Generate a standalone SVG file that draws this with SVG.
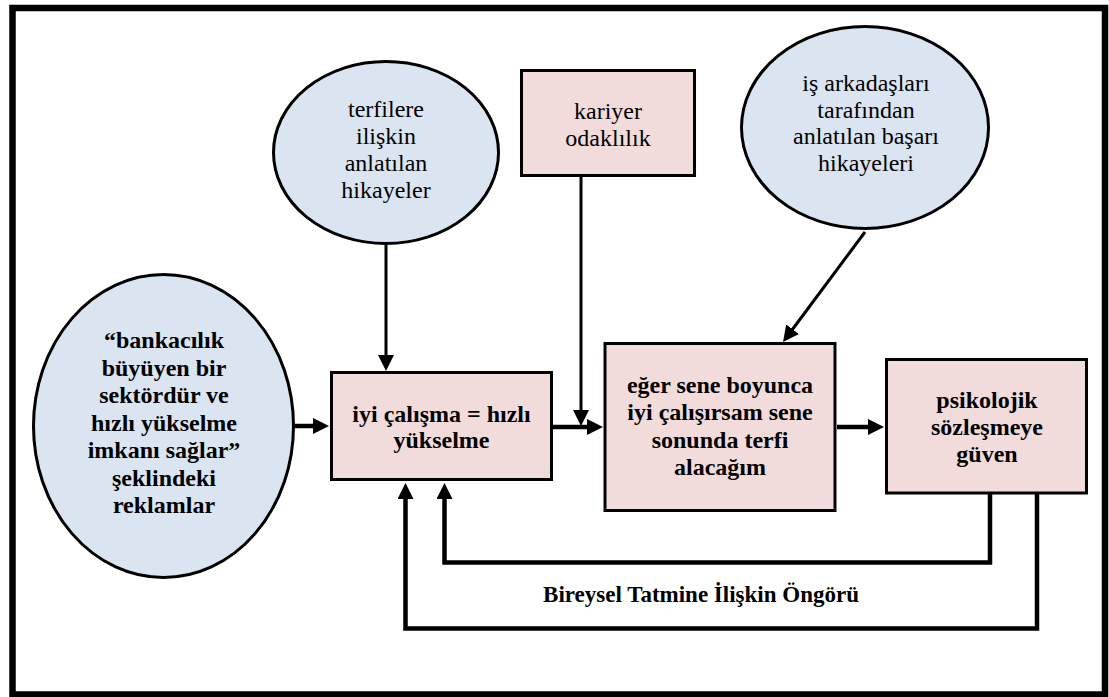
<svg xmlns="http://www.w3.org/2000/svg" width="1109" height="697" viewBox="0 0 1109 697">
  <style>
    .frame { fill: #ffffff; stroke: #000000; stroke-width: 6.5; }
    .oval { fill: #dbe5f1; stroke: #000000; stroke-width: 3; }
    .box { fill: #f2dcdb; stroke: #000000; stroke-width: 3; }
    .thin { fill: none; stroke: #000000; stroke-width: 3; marker-end: url(#arrow); }
    .thick { fill: none; stroke: #000000; stroke-width: 4.5; marker-end: url(#arrow); }
    text { font-family: "Liberation Serif", Tinos, "Times New Roman", Times, "Noto Serif", "DejaVu Serif", FreeSerif, serif; font-size: 24px; fill: #000000; text-anchor: middle; }
    .b { font-weight: bold; }
  </style>
  <defs>
    <marker id="arrow" viewBox="0 0 16 16" markerWidth="16" markerHeight="16" markerUnits="userSpaceOnUse" refX="1" refY="8" orient="auto">
      <path d="M0,0 L16,8 L0,16 z" fill="#000000"/>
    </marker>
  </defs>

  <!-- outer frame -->
  <rect class="frame" x="12.5" y="8" width="1092.5" height="686.5"/>

  <!-- connectors -->
  <g id="connectors">
    <path class="thin" d="M386,245 V356"/>
    <path class="thin" d="M581,177 V411"/>
    <path class="thick" d="M553,427 H588"/>
    <path class="thin" d="M865,232 L792,330"/>
    <path class="thick" d="M837,427 H869"/>
    <path class="thick" d="M295,426 H314"/>
    <path class="thick" d="M990,494 V562.5 H444.5 V498"/>
    <path class="thick" d="M1037,494 V628.5 H405.5 V498"/>
  </g>

  <g id="terfilere">
    <ellipse class="oval" cx="386" cy="152.5" rx="112.5" ry="91"/>
    <text x="386" y="117">terfilere</text>
    <text x="386" y="144">ilişkin</text>
    <text x="386" y="171">anlatılan</text>
    <text x="386" y="198">hikayeler</text>
  </g>

  <g id="kariyer">
    <rect class="box" x="521.5" y="70.5" width="173" height="105"/>
    <text x="608" y="119">kariyer</text>
    <text x="608" y="146">odaklılık</text>
  </g>

  <g id="is-arkadaslari">
    <ellipse class="oval" cx="865" cy="127.5" rx="123.5" ry="101"/>
    <text x="866" y="91">iş arkadaşları</text>
    <text x="866" y="118">tarafından</text>
    <text x="866" y="144">anlatılan başarı</text>
    <text x="866" y="171">hikayeleri</text>
  </g>

  <g id="reklamlar">
    <ellipse class="oval" cx="163.5" cy="426" rx="130" ry="151.5"/>
    <text class="b" x="164" y="348">“bankacılık</text>
    <text class="b" x="164" y="375.5">büyüyen bir</text>
    <text class="b" x="164" y="403">sektördür ve</text>
    <text class="b" x="164" y="430.5">hızlı yükselme</text>
    <text class="b" x="164" y="458">imkanı sağlar”</text>
    <text class="b" x="164" y="485.5">şeklindeki</text>
    <text class="b" x="164" y="513">reklamlar</text>
  </g>

  <g id="iyi-calisma">
    <rect class="box" x="331.5" y="372.5" width="220" height="107"/>
    <text class="b" x="441.5" y="422">iyi çalışma = hızlı</text>
    <text class="b" x="441.5" y="448">yükselme</text>
  </g>

  <g id="terfi-beklentisi">
    <rect class="box" x="605" y="343.5" width="230" height="167"/>
    <text class="b" x="720" y="393">eğer sene boyunca</text>
    <text class="b" x="720" y="420">iyi çalışırsam sene</text>
    <text class="b" x="720" y="448">sonunda terfi</text>
    <text class="b" x="720" y="475">alacağım</text>
  </g>

  <g id="psikolojik-sozlesme">
    <rect class="box" x="886.5" y="359.5" width="200" height="133.5"/>
    <text class="b" x="987" y="408">psikolojik</text>
    <text class="b" x="987" y="435">sözleşmeye</text>
    <text class="b" x="987" y="462">güven</text>
  </g>

  <text class="b" x="701" y="602" style="font-size:23px">Bireysel Tatmine İlişkin Öngörü</text>
</svg>
